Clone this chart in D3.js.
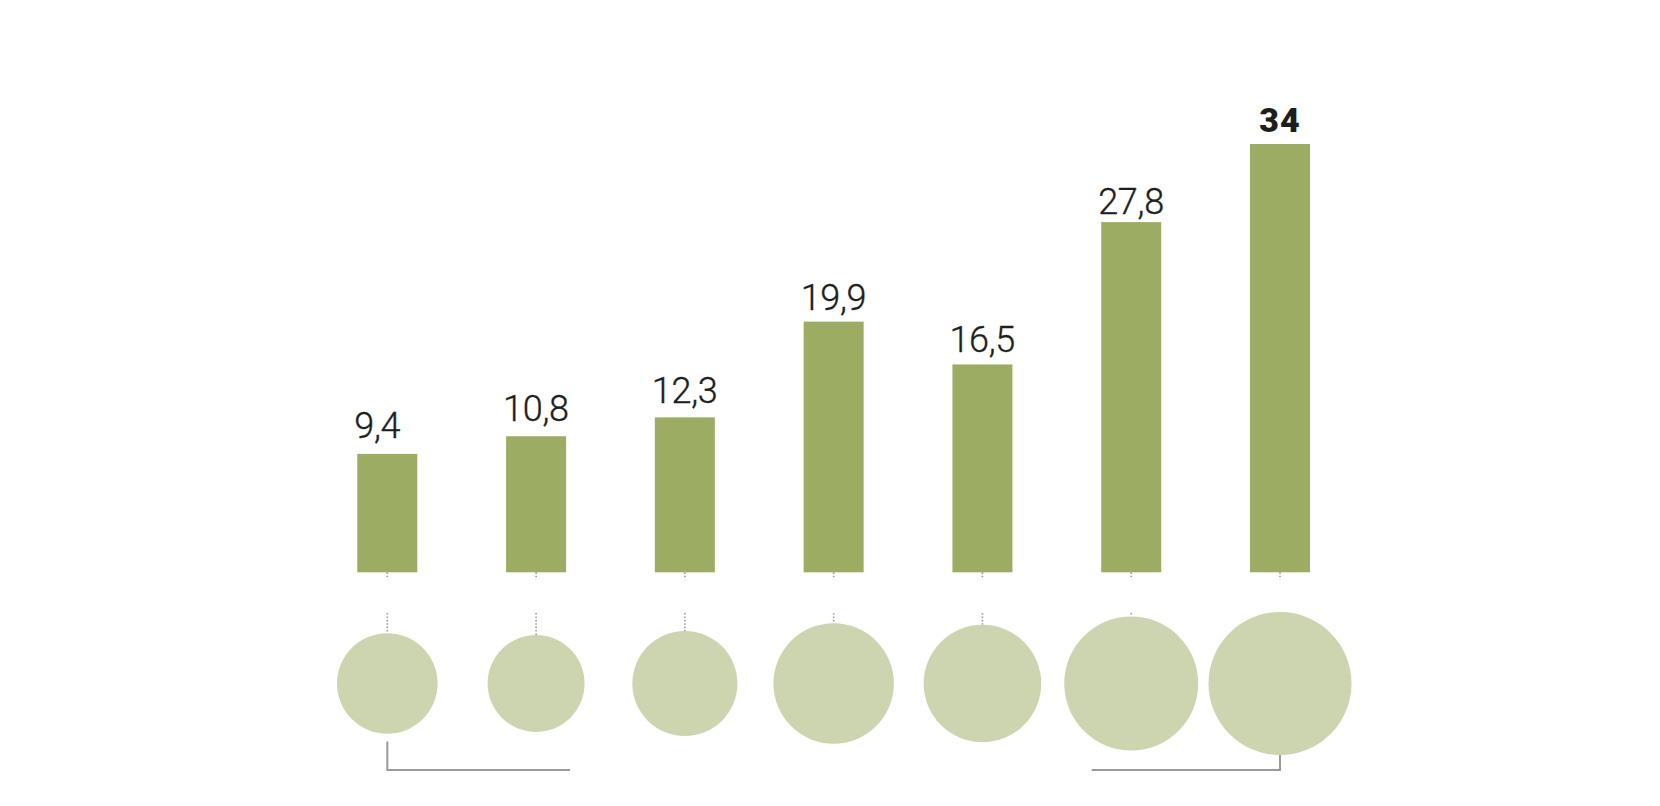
<!DOCTYPE html>
<html>
<head>
<meta charset="utf-8">
<script src="https://cdn.jsdelivr.net/npm/d3@7"></script>
<style>
  html, body { margin: 0; padding: 0; background: #fff; }
  svg { display: block; }
</style>
</head>
<body>
<svg id="chart" width="1660" height="806"></svg>
<script>
// ---- data ----
const categories = ["1", "2", "3", "4", "5", "6", "7"];
const barValues = [9.4, 10.8, 12.3, 19.9, 16.5, 27.8, 34];
const barLabels = ["9,4", "10,8", "12,3", "19,9", "16,5", "27,8", "34"];
const highlight = [false, false, false, false, false, false, true];
// second series shown as circle areas (relative)
const circleValues = [49.5, 46, 54, 71, 67.6, 87.8, 100];

// ---- layout ----
const W = 1660, H = 806;
const svg = d3.select("#chart");

const x = d3.scalePoint().domain(categories).range([387.3, 1280]);
const barW = 60;
const y = d3.scaleLinear().domain([0, 34]).range([572.3, 144]);
const yLabel = d3.scaleLinear().domain([0, 34]).range([553, 138.5]);
const r = d3.scaleSqrt().domain([0, 100]).range([0, 71.5]);
const circleCY = 683.5;

const barColor = "#9cac62";
const circleColor = "#cdd5b0";
const lineColor = "#9a9a9a";

const data = categories.map((c, i) => ({
  c, v: barValues[i], label: barLabels[i], hi: highlight[i], cv: circleValues[i]
}));

// dotted connectors
const dots = svg.append("g")
  .attr("stroke", lineColor)
  .attr("stroke-width", 1.6)
  .attr("stroke-dasharray", "1.6,1.8");
dots.selectAll("line.top").data(data).join("line")
  .attr("class", "top")
  .attr("x1", d => x(d.c)).attr("x2", d => x(d.c))
  .attr("y1", y(0)).attr("y2", y(0) + 7);
dots.selectAll("line.bot").data(data).join("line")
  .attr("class", "bot")
  .attr("x1", d => x(d.c)).attr("x2", d => x(d.c))
  .attr("y1", 613).attr("y2", d => circleCY - r(d.cv));

// brackets
const br = svg.append("g")
  .attr("fill", "none")
  .attr("stroke", lineColor)
  .attr("stroke-width", 2);
const brTop = 741.5, brBot = 770;
br.append("path")
  .attr("d", `M${x(categories[0])},${brTop}V${brBot}H${x(categories[1]) + 34}`);
br.append("path")
  .attr("d", `M${x(categories[6])},${brTop}V${brBot}H${x(categories[5]) - 39.5}`);

// bars
svg.append("g").selectAll("rect").data(data).join("rect")
  .attr("x", d => x(d.c) - barW / 2)
  .attr("width", barW)
  .attr("y", d => y(d.v))
  .attr("height", d => y(0) - y(d.v))
  .attr("fill", barColor);

// circles
svg.append("g").selectAll("circle").data(data).join("circle")
  .attr("cx", d => x(d.c))
  .attr("cy", circleCY)
  .attr("r", d => r(d.cv))
  .attr("fill", circleColor);

// labels
svg.append("g").selectAll("text").data(data).join("text")
  .attr("x", d => d.hi ? x(d.c) : x(d.c) - barW / 2 - 3)
  .attr("y", d => d.hi ? y(d.v) - 12 : yLabel(d.v))
  .attr("text-anchor", d => d.hi ? "middle" : "start")
  .attr("font-family", "Roboto, 'Noto Sans', sans-serif")
  .attr("font-weight", d => d.hi ? 900 : 300)
  .attr("font-size", d => d.hi ? 34 : 36)
  .attr("letter-spacing", d => d.hi ? 1 : -0.3)
  .attr("stroke", d => d.hi ? "none" : "#1e1e1e")
  .attr("stroke-width", d => d.hi ? 0 : 0.35)
  .attr("fill", "#1e1e1e")
  .text(d => d.label);
</script>
</body>
</html>
